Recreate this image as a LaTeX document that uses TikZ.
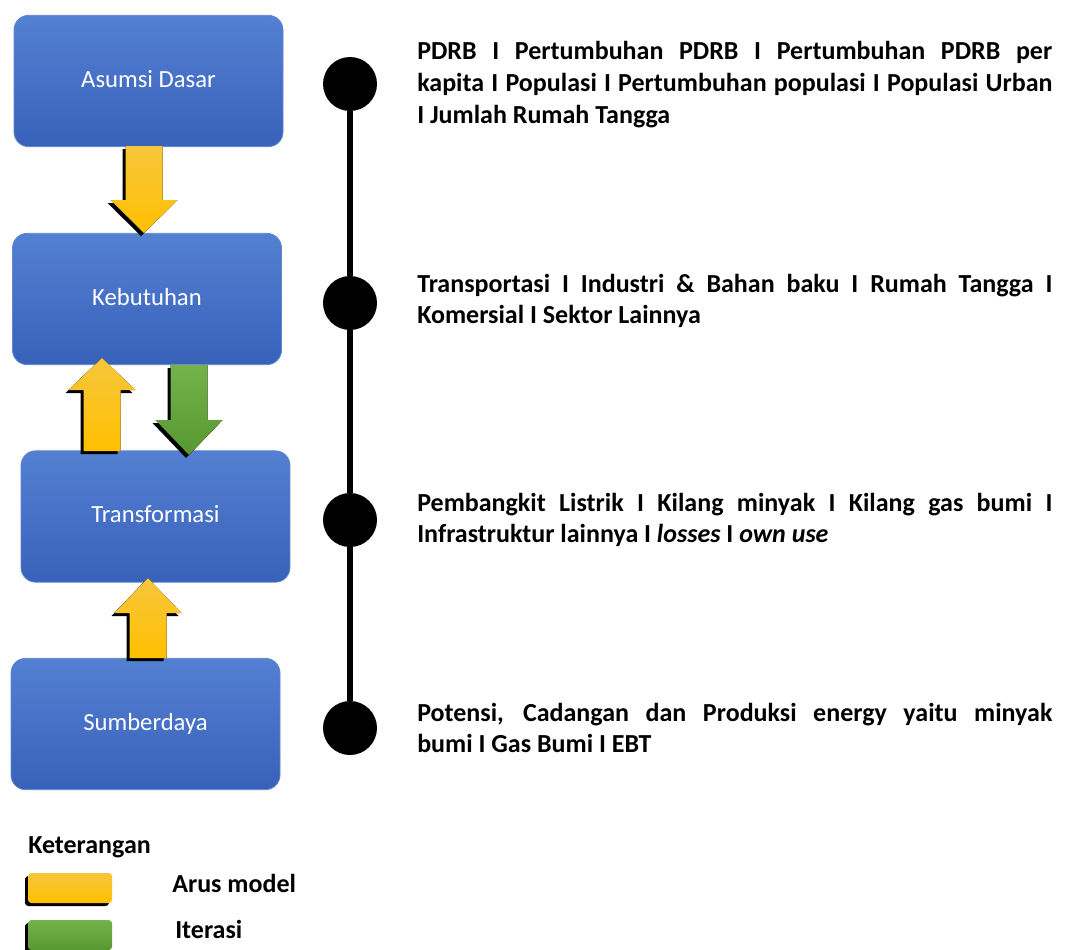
\documentclass[tikz,border=0pt]{standalone}
\usepackage{fontspec}
\setmainfont{Carlito}
\definecolor{bluetop}{RGB}{84,128,210}
\definecolor{bluebot}{RGB}{56,97,186}
\definecolor{blueedge}{RGB}{95,135,205}
\definecolor{yeltop}{RGB}{246,198,60}
\definecolor{yelbot}{RGB}{255,192,0}
\definecolor{grntop}{RGB}{116,178,76}
\definecolor{grnbot}{RGB}{88,152,48}
\tikzset{
  blk/.style={rectangle, rounded corners=11pt, top color=bluetop, bottom color=bluebot,
    draw=blueedge, line width=0.6pt, minimum width=201.75pt, minimum height=98.5pt,
    text=white, font=\fontsize{18.5}{22}\selectfont, text height=9pt, text depth=0pt, inner sep=0pt},
  dot/.style={circle, fill=black, minimum size=40.5pt, inner sep=0pt},
  rtxt/.style={anchor=base west, inner sep=0pt, font=\bfseries\fontsize{19.5}{24}\selectfont},
  ltxt/.style={anchor=base west, inner sep=0pt, font=\bfseries\fontsize{19.5}{24}\selectfont},
  yelfill/.style={top color=yeltop, bottom color=yelbot},
  grnfill/.style={top color=grntop, bottom color=grnbot},
  shadowfill/.style={fill=black},
  legbox/.style={rectangle, rounded corners=2.5pt, minimum width=63pt, minimum height=22.5pt, inner sep=0pt}
}
% down arrow: cx, top, headbase, tip, style
\newcommand{\downarr}[5]{%
  \fill[#5] (#1-18.5,#2) -- (#1+18.5,#2) -- (#1+18.5,#3) -- (#1+33.5,#3) -- (#1,#4) -- (#1-33.5,#3) -- (#1-18.5,#3) -- cycle;}
\newcommand{\uparr}[5]{%
  \fill[#5] (#1-18.5,#2) -- (#1+18.5,#2) -- (#1+18.5,#3) -- (#1+33.5,#3) -- (#1,#4) -- (#1-33.5,#3) -- (#1-18.5,#3) -- cycle;}
\newcommand{\JL}[1]{\makebox[476.25pt][s]{#1}}
\begin{document}
\begin{tikzpicture}[x=0.75pt,y=-0.75pt]
\useasboundingbox[fill=white] (0,0) rectangle (1066,949);

% boxes
\node[blk] (A) at (148.5,81) {Asumsi Dasar};
\node[blk] (K) at (147,299) {Kebutuhan};
\node[blk] (T) at (155.5,516.5) {Transformasi};
\node[blk] (S) at (145.5,724) {Sumberdaya};

% arrows (shadow then colour)
\downarr{141}{149}{203}{236}{shadowfill}
\downarr{144}{146}{200}{233}{yelfill}
\uparr{99}{454}{393}{361}{shadowfill}
\uparr{102}{451}{390}{358}{yelfill}
\downarr{186}{368}{423}{458}{shadowfill}
\downarr{189}{365}{420}{455}{grnfill}
\uparr{145}{661}{616}{581}{shadowfill}
\uparr{148}{658}{613}{578}{yelfill}

% timeline
\node[dot] (c1) at (350,84) {};
\node[dot] (c2) at (350,303) {};
\node[dot] (c3) at (350,520) {};
\node[dot] (c4) at (350,728) {};
\draw[line width=4.5pt] (c1) -- (c2);
\draw[line width=4.5pt] (c2) -- (c3);
\draw[line width=4.5pt] (c3) -- (c4);

% descriptions
\node[rtxt] (d1a) at (417,60) {\JL{PDRB I Pertumbuhan PDRB I Pertumbuhan PDRB per}};
\node[rtxt] (d1b) at (417,91.5) {\JL{kapita I Populasi I Pertumbuhan populasi I Populasi Urban}};
\node[rtxt] (d1c) at (417,123) {I Jumlah Rumah Tangga};

\node[rtxt] (d2a) at (417,292) {\JL{Transportasi I Industri \& Bahan baku I Rumah Tangga I}};
\node[rtxt] (d2b) at (417,323) {Komersial I Sektor Lainnya};

\node[rtxt] (d3a) at (417,511) {\JL{Pembangkit Listrik I Kilang minyak I Kilang gas bumi I}};
\node[rtxt] (d3b) at (417,542) {Infrastruktur lainnya I {\itshape losses} I {\itshape own use}};

\node[rtxt] (d4a) at (417,721) {\JL{Potensi, Cadangan dan Produksi energy yaitu minyak}};
\node[rtxt] (d4b) at (417,752) {bumi I Gas Bumi I EBT};

% legend
\node[ltxt] (leg) at (28,853) {Keterangan};
\node[legbox, fill=black] (ly0) at (67,891) {};
\node[legbox, yelfill] (ly) at (70,888) {};
\node[ltxt] (lyt) at (172,892) {Arus model};
\node[legbox, fill=black] (lg0) at (67,938) {};
\node[legbox, grnfill] (lg) at (70,935) {};
\node[ltxt] (lgt) at (175,938) {Iterasi};
\end{tikzpicture}
\end{document}
